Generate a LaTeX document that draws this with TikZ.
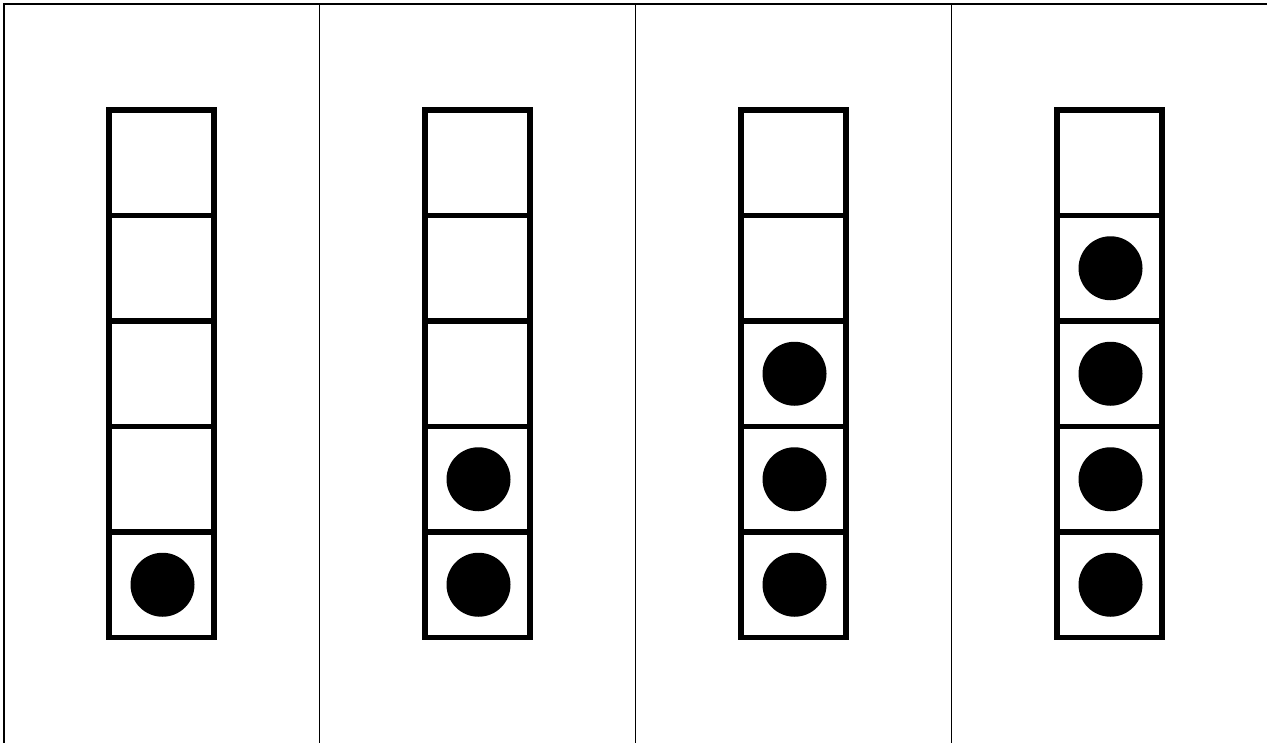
\documentclass[tikz,border=0pt]{standalone}
\begin{document}
\begin{tikzpicture}[x=0.5pt,y=-0.5pt,
  thinline/.style={line width=0.65pt},
  cell/.style={draw,line width=2.8pt,minimum width=52.6pt,minimum height=52.75pt,inner sep=0pt,outer sep=0pt},
  counter/.style={circle,fill=black,minimum size=32pt,inner sep=0pt}]
\useasboundingbox (0,0) rectangle (1267,743);
\fill[white] (0,0) rectangle (1267,743);
\coordinate (tl) at (4,4);
\coordinate (tr) at (1267,4);
\coordinate (bl) at (4,743);
\draw[thinline] (bl) -- (tl) -- (tr);
\foreach \i/\x in {1/319.5,2/635.5,3/951.5}{
  \coordinate (vt\i) at (\x,4);
  \coordinate (vb\i) at (\x,743);
  \draw[thinline] (vt\i) -- (vb\i);
}
\foreach \c/\x/\n in {1/161.5/1,2/477.5/2,3/793.5/3,4/1109.5/4}{
  \foreach \r in {1,...,5}{
    \node[cell] (c\c-\r) at (\x,{110+52.75+105.5*(\r-1)}) {};
  }
  \foreach \r in {1,...,\n}{
    \pgfmathtruncatemacro{\row}{6-\r}
    \node[counter] (d\c-\r) at ([xshift=0.5pt]c\c-\row.center) {};
  }
}
\end{tikzpicture}
\end{document}
